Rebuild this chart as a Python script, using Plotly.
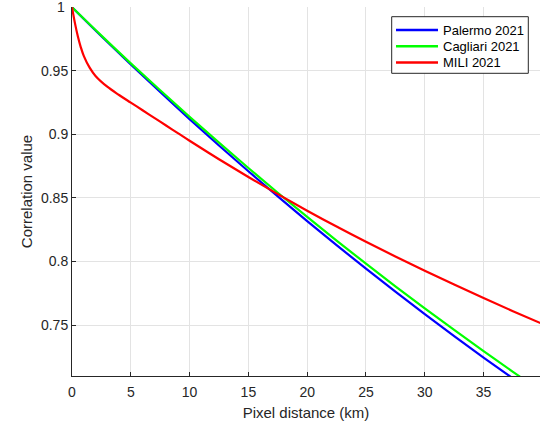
import plotly.graph_objects as go

# Data
dist_blue = [0, 2.5, 5, 7.5, 10, 12.5, 15, 17.5, 20, 22.5, 25, 27.5, 30, 32.5, 35, 37.5, 39]
palermo = [1.0, 0.9772, 0.9550, 0.9333, 0.9120, 0.8913, 0.8710, 0.8512, 0.8318, 0.8129,
           0.7944, 0.7763, 0.7587, 0.7414, 0.7245, 0.7081, 0.6983]

dist_green = [0, 2.5, 5, 7.5, 10, 12.5, 15, 17.5, 20, 22.5, 25, 27.5, 30, 32.5, 35, 37.5, 39]
cagliari = [1.0, 0.9777, 0.9559, 0.9347, 0.9138, 0.8935, 0.8736, 0.8541, 0.8351, 0.8165,
            0.7983, 0.7805, 0.7632, 0.7462, 0.7296, 0.7133, 0.7036]

dist_red = [0, 0.25, 0.5, 0.75, 1, 1.5, 2, 3, 4, 5, 6, 7, 8, 9, 10, 12.5, 15, 17.5, 20,
            22.5, 25, 27.5, 30, 32.5, 35, 37.5, 40]
mili = [1.0, 0.9875, 0.9770, 0.9685, 0.9618, 0.9525, 0.9460, 0.9375, 0.9310, 0.9250,
        0.9190, 0.9130, 0.9070, 0.9010, 0.8950, 0.8805, 0.8665, 0.8530, 0.8400, 0.8275,
        0.8155, 0.8040, 0.7928, 0.7819, 0.7713, 0.7610, 0.7510]

series_names = ["Palermo 2021", "Cagliari 2021", "MILI 2021"]
series_colors = ["#0000ff", "#00ff00", "#ff0000"]

x_ticks = [0, 5, 10, 15, 20, 25, 30, 35]
y_ticks = [0.75, 0.8, 0.85, 0.9, 0.95, 1]

axis_col = "#262626"
grid_col = "#e3e3e3"
font_family = "Liberation Sans, Arial, sans-serif"

W, H = 549, 428
ML, MR, MT, MB = 72, 9, 7, 52
PW, PH = W - ML - MR, H - MT - MB


def px(X):
    return (X - ML) / PW


def py(Y):
    return (H - MB - Y) / PH


fig = go.Figure()
for xs, ys, name, col in zip([dist_blue, dist_green, dist_red],
                             [palermo, cagliari, mili], series_names, series_colors):
    fig.add_trace(go.Scatter(x=xs, y=ys, mode="lines", name=name, showlegend=False,
                             line=dict(color=col, width=2.2, shape="spline", smoothing=1)))

# Legend box drawn like the reference (MATLAB style)
shapes = [dict(type="rect", xref="paper", yref="paper",
               x0=px(391.7), x1=px(528.3), y0=py(73.3), y1=py(16.7),
               line=dict(color=axis_col, width=1), fillcolor="white", layer="above")]
annotations = []
row_y = [30.0, 46.3, 62.6]
for yy, name, col in zip(row_y, series_names, series_colors):
    shapes.append(dict(type="line", xref="paper", yref="paper",
                       x0=px(396), x1=px(438), y0=py(yy), y1=py(yy),
                       line=dict(color=col, width=2.5), layer="above"))
    annotations.append(dict(text=name, xref="paper", yref="paper", x=px(440.5), y=py(yy),
                            xanchor="left", yanchor="middle", showarrow=False,
                            font=dict(size=13, color="black", family=font_family)))

# top tick label "1" (plotly hides the label sitting on the range edge)
annotations.append(dict(text="1", xref="paper", yref="y", x=0, y=y_ticks[-1],
                        xanchor="right", yanchor="middle", xshift=-5, showarrow=False,
                        font=dict(size=14, color=axis_col, family=font_family)))

fig.update_layout(
    width=W, height=H,
    margin=dict(l=ML, r=MR, t=MT, b=MB),
    paper_bgcolor="white", plot_bgcolor="white",
    font=dict(family=font_family, size=14, color=axis_col),
    showlegend=False,
    shapes=shapes, annotations=annotations,
    xaxis=dict(range=[0, 39.8], tickvals=x_ticks, showgrid=True, gridcolor=grid_col,
               zeroline=False, showline=True, linecolor=axis_col, linewidth=1,
               ticks="inside", ticklen=4, tickcolor=axis_col, ticklabelstandoff=3,
               title=dict(text="Pixel distance (km)", font=dict(size=15), standoff=8)),
    yaxis=dict(range=[0.71, 1.0002], tickvals=y_ticks, showgrid=True, gridcolor=grid_col,
               zeroline=False, showline=True, linecolor=axis_col, linewidth=1,
               ticks="inside", ticklen=4, tickcolor=axis_col,
               title=dict(text="Correlation value", font=dict(size=15), standoff=4)),
)

fig.write_html("out.html")
